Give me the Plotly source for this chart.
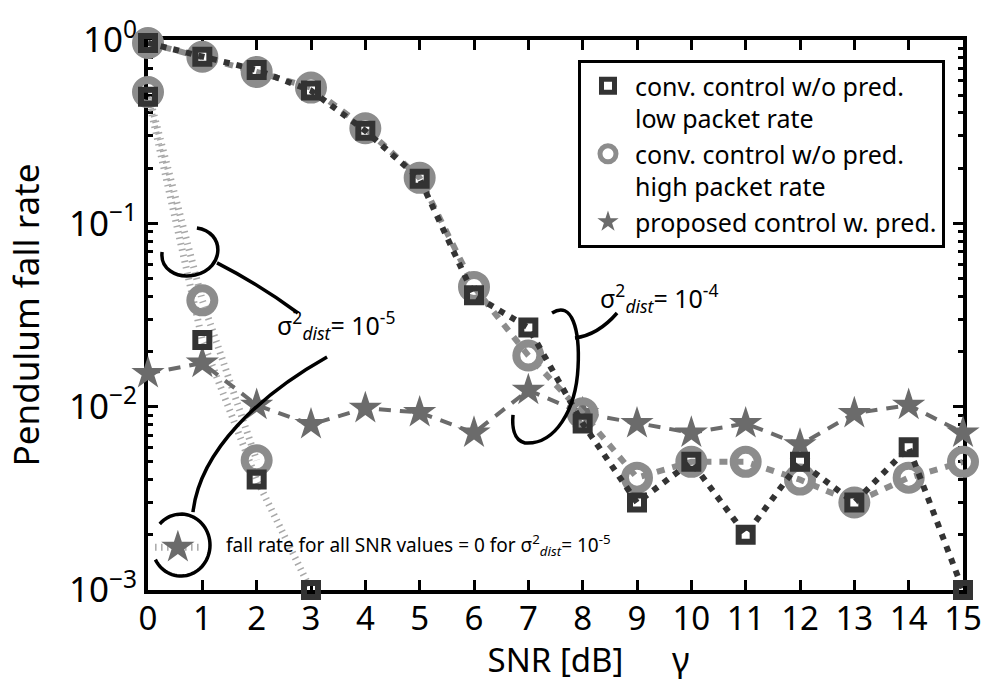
import numpy as np
import plotly.graph_objects as go

# ---------------- data ----------------
snr = list(range(16))

# sigma^2_dist = 1e-4
conv_low_e4 = [0.963, 0.81, 0.686, 0.53, 0.32, 0.175, 0.0405, 0.027,
               0.0081, 0.0030, 0.0050, 0.0020, 0.0050, 0.0030, 0.0060, 0.0010]
conv_high_e4 = [0.963, 0.81, 0.67, 0.55, 0.33, 0.177, 0.045, 0.019,
                0.0092, 0.0041, 0.0050, 0.0050, 0.0040, 0.0030, 0.0041, 0.0050]
proposed_e4 = [0.0152, 0.0173, 0.0102, 0.0080, 0.0098, 0.0093, 0.0072, 0.0123,
               0.0092, 0.0081, 0.0072, 0.0081, 0.0062, 0.0092, 0.0102, 0.0072]

# sigma^2_dist = 1e-5 (zero fall rates cannot be shown on the log axis)
snr_low_e5 = [0, 1, 2, 3]
conv_low_e5 = [0.49, 0.0231, 0.0040, 0.0010]
snr_high_e5 = [0, 1, 2]
conv_high_e5 = [0.52, 0.038, 0.0051]

# key symbol for the proposed controller at sigma^2_dist = 1e-5
key_star_snr = [0.55]
key_star_rate = [0.00171]
key_line_snr = [0.13, 0.96]
key_line_rate = [0.00171, 0.00171]

ytick_vals = [1e-3, 1e-2, 1e-1, 1]
ytick_text = ["10<sup>\u22123</sup>", "10<sup>\u22122</sup>",
              "10<sup>\u22121</sup>", "10<sup>0</sup>"]
yminor_vals = [m * 10.0 ** e for e in (-3, -2, -1) for m in range(2, 10)]

FONT = "Noto Sans"
DARK = "#333333"
MID = "#8c8c8c"
STAR = "#6b6b6b"
HATCH = "#a8a8a8"

X_RANGE = (0, 15)
Y_RANGE = (-3, 0)  # decades


def to_paper(s, dec):
    """(SNR, log10 rate) -> paper coordinates."""
    return ((s - X_RANGE[0]) / (X_RANGE[1] - X_RANGE[0]),
            (dec - Y_RANGE[0]) / (Y_RANGE[1] - Y_RANGE[0]))


def svg_path(segments):
    out = []
    for cmd, pts in segments:
        coords = " ".join("%.5f,%.5f" % to_paper(*p) for p in pts)
        out.append(cmd + " " + coords)
    return " ".join(out)


fig = go.Figure()

hatch = dict(color=HATCH, width=7, dash="1.5px,4.5px")

# hatched light lines for sigma^2 = 1e-5
fig.add_trace(go.Scatter(x=snr_high_e5, y=conv_high_e5, mode="lines",
                         line=hatch, showlegend=False, hoverinfo="skip"))
fig.add_trace(go.Scatter(x=snr_low_e5, y=conv_low_e5, mode="lines",
                         line=hatch, showlegend=False, hoverinfo="skip"))
fig.add_trace(go.Scatter(x=key_line_snr, y=key_line_rate, mode="lines",
                         line=hatch, showlegend=False, hoverinfo="skip"))

# proposed controller
fig.add_trace(go.Scatter(x=snr, y=proposed_e4, mode="lines+markers",
                         line=dict(color=STAR, width=4, dash="12px,9px"),
                         marker=dict(symbol="star", size=25, color=STAR),
                         cliponaxis=False, showlegend=False))
fig.add_trace(go.Scatter(x=key_star_snr, y=key_star_rate, mode="markers",
                         marker=dict(symbol="star", size=25, color=STAR),
                         cliponaxis=False, showlegend=False))

circle_mk = dict(symbol="circle-open", size=24, color=MID,
                 line=dict(color=MID, width=8))
square_mk = dict(symbol="square-open", size=14, color=DARK,
                 line=dict(color=DARK, width=6))

# conventional control, high packet rate
fig.add_trace(go.Scatter(x=snr, y=conv_high_e4, mode="lines+markers",
                         line=dict(color=MID, width=6, dash="8px,8px"),
                         marker=circle_mk, cliponaxis=False, showlegend=False))
fig.add_trace(go.Scatter(x=snr_high_e5, y=conv_high_e5, mode="markers",
                         marker=circle_mk, cliponaxis=False, showlegend=False))

# conventional control, low packet rate
fig.add_trace(go.Scatter(x=snr, y=conv_low_e4, mode="lines+markers",
                         line=dict(color=DARK, width=6, dash="6px,7px"),
                         marker=square_mk, cliponaxis=False, showlegend=False))
fig.add_trace(go.Scatter(x=snr_low_e5, y=conv_low_e5, mode="markers",
                         marker=square_mk, cliponaxis=False, showlegend=False))

# legend entries (symbols only)
fig.add_trace(go.Scatter(x=[None], y=[None], mode="markers",
                         name="conv. control w/o pred.<br>low packet rate",
                         marker=dict(symbol="square-open", size=13, color=DARK,
                                     line=dict(color=DARK, width=5))))
fig.add_trace(go.Scatter(x=[None], y=[None], mode="markers",
                         name="conv. control w/o pred.<br>high packet rate",
                         marker=dict(symbol="circle-open", size=16, color=MID,
                                     line=dict(color=MID, width=5))))
fig.add_trace(go.Scatter(x=[None], y=[None], mode="markers",
                         name="proposed control w. pred.",
                         marker=dict(symbol="star", size=16, color=STAR)))

# ---------------- annotation curves ----------------
curve = dict(type="path", xref="paper", yref="paper",
             line=dict(color="black", width=3.5), layer="above")

# bracket around the 1e-5 conventional curves
hook = svg_path([("M", [(0.90, -1.025)]),
                 ("C", [(1.42, -1.047), (1.42, -1.244), (0.865, -1.282)]),
                 ("C", [(0.50, -1.304), (0.22, -1.244), (0.26, -1.156)])])
hook_tail = svg_path([("M", [(1.27, -1.216)]),
                      ("Q", [(2.06, -1.336), (2.76, -1.489)])])
# leader to the key star
lead = svg_path([("M", [(3.295, -1.729)]),
                 ("C", [(2.06, -1.936), (0.957, -2.236), (0.828, -2.575)])])
# open ring around the key star
t = np.radians(np.linspace(137, -152, 60))
ring_pts = [(0.607 + 0.534 * np.cos(a), -2.755 + 0.169 * np.sin(a)) for a in t]
ring = svg_path([("M", [ring_pts[0]])] + [("L", [p]) for p in ring_pts[1:]])
# bracket around the 1e-4 curves
brace = svg_path([("M", [(7.436, -1.489)]),
                  ("C", [(7.804, -1.418), (7.951, -1.582), (7.915, -1.784)]),
                  ("C", [(7.878, -2.018), (7.491, -2.209), (6.939, -2.198)]),
                  ("C", [(6.718, -2.182), (6.700, -2.100), (6.718, -2.045)])])
brace_tail = svg_path([("M", [(7.859, -1.625)]),
                       ("Q", [(8.283, -1.609), (8.633, -1.489)])])

for p in (hook, hook_tail, lead, ring, brace, brace_tail):
    fig.add_shape(path=p, **curve)

sig5 = "\u03c3<sup>2</sup><sub><i>dist</i></sub>= 10<sup>-5</sup>"
sig4 = "\u03c3<sup>2</sup><sub><i>dist</i></sub>= 10<sup>-4</sup>"
fig.add_annotation(x=2.34, y=-1.555, xref="x", yref="y", text=sig5,
                   showarrow=False, xanchor="left", yanchor="middle",
                   font=dict(family=FONT, size=25, color="black"))
fig.add_annotation(x=8.28, y=-1.407, xref="x", yref="y", text=sig4,
                   showarrow=False, xanchor="left", yanchor="middle",
                   font=dict(family=FONT, size=25, color="black"))
fig.add_annotation(x=1.40, y=-2.755, xref="x", yref="y",
                   text="fall rate for all SNR values = 0 for " + sig5,
                   showarrow=False, xanchor="left", yanchor="middle",
                   font=dict(family=FONT, size=19, color="black"))
fig.add_annotation(x=9.81, y=-0.125, xref="x", yref="paper", text="\u03b3",
                   showarrow=False, xanchor="center", yanchor="middle",
                   font=dict(family=FONT, size=34, color="black"))

axis_common = dict(showline=True, linecolor="black", linewidth=4,
                   mirror="ticks", ticks="inside", tickcolor="black",
                   tickwidth=3, ticklen=10, showgrid=False, zeroline=False,
                   layer="below traces")

fig.update_xaxes(range=list(X_RANGE), tickmode="array", tickvals=snr,
                 tickfont=dict(family=FONT, size=33, color="black"),
                 ticklabelstandoff=-4,
                 title=dict(text="SNR [dB]", standoff=0,
                            font=dict(family=FONT, size=33, color="black")),
                 **axis_common)
fig.update_yaxes(type="log", range=list(Y_RANGE), tickmode="array",
                 tickvals=ytick_vals, ticktext=ytick_text,
                 tickfont=dict(family=FONT, size=35, color="black"),
                 minor=dict(ticks="inside", ticklen=5, tickwidth=3,
                            tickcolor="black", tickmode="array",
                            tickvals=yminor_vals, showgrid=False),
                 title=dict(text="Pendulum fall rate", standoff=20,
                            font=dict(family=FONT, size=35, color="black")),
                 **axis_common)

fig.update_layout(
    width=984, height=682,
    margin=dict(l=148, r=21, t=40, b=92, autoexpand=False),
    paper_bgcolor="white", plot_bgcolor="white",
    font=dict(family=FONT, color="black"),
    legend=dict(x=0.5276, y=0.9636, xanchor="left", yanchor="top",
                bgcolor="white", bordercolor="black", borderwidth=3,
                font=dict(family=FONT, size=25, color="black"),
                valign="top", tracegroupgap=0, itemwidth=44),
)

fig.write_html("out.html")
